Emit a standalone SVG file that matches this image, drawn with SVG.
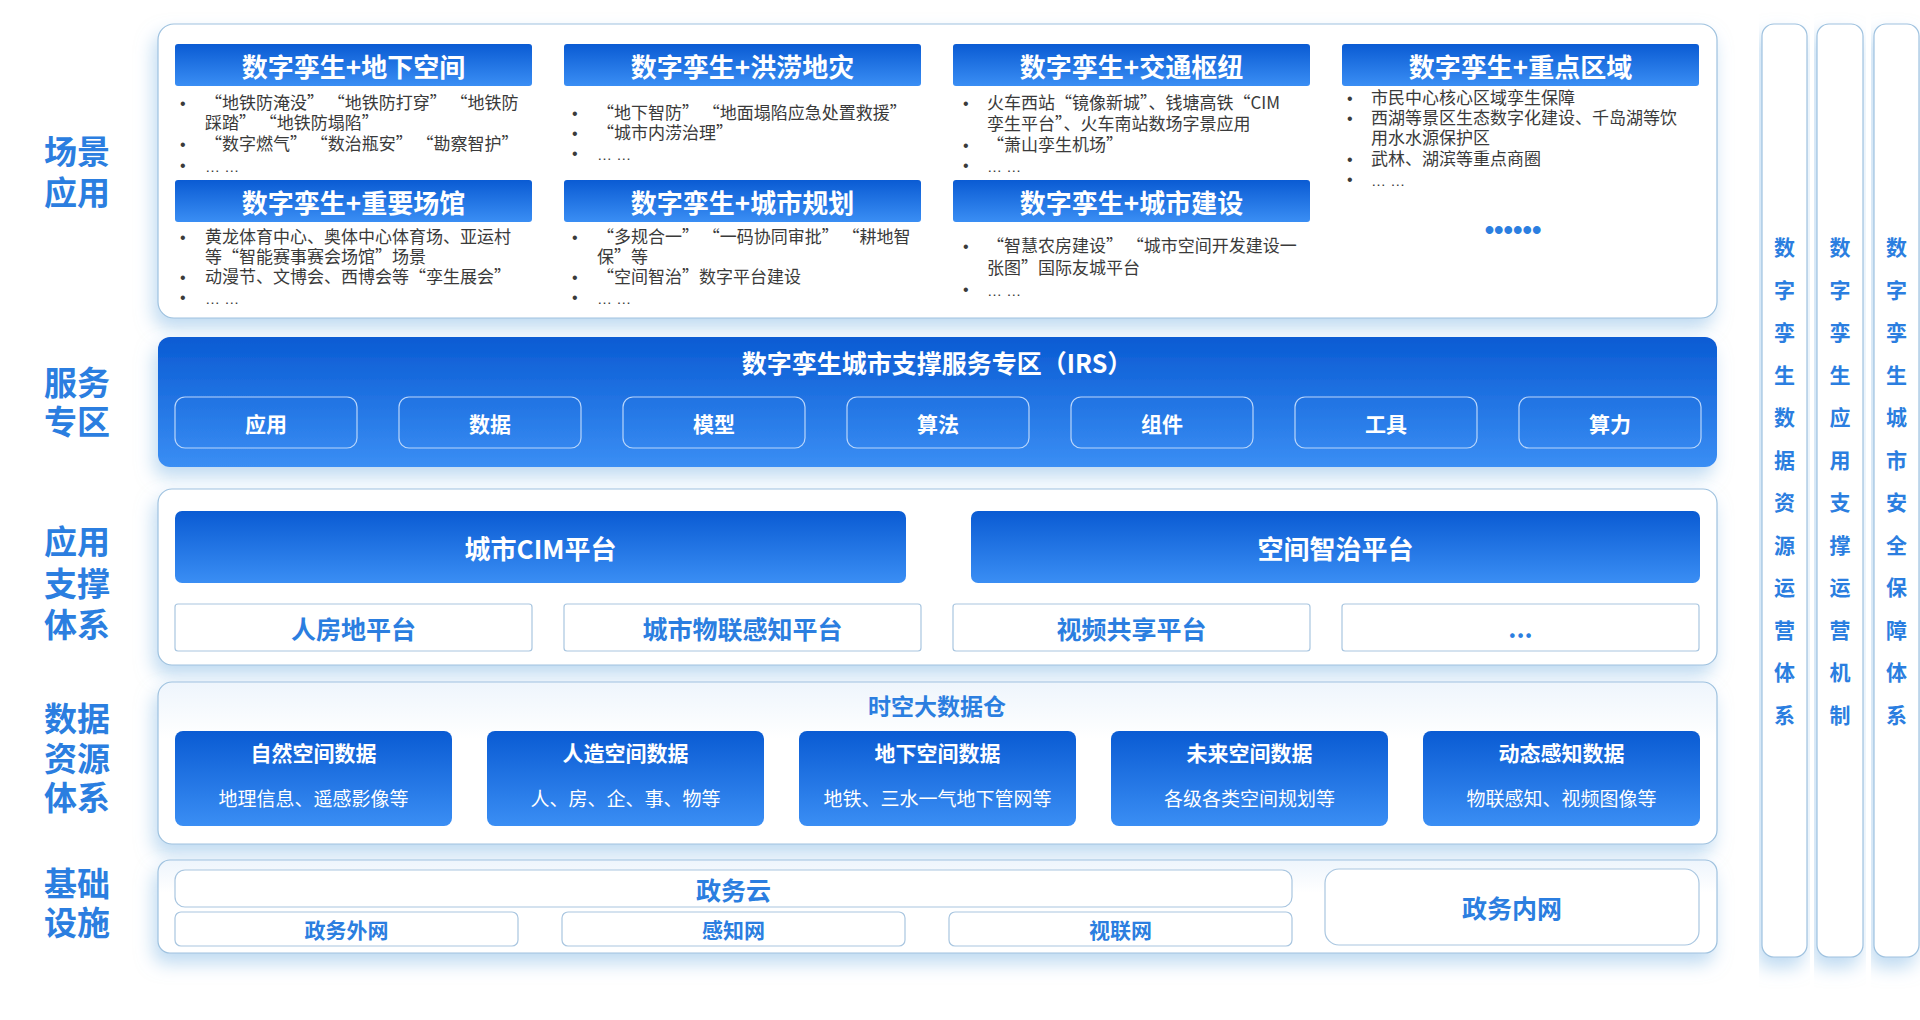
<svg xmlns="http://www.w3.org/2000/svg" width="1920" height="1020" viewBox="0 0 1920 1020">
<defs>
<linearGradient id="blue" x1="0" y1="0" x2="0" y2="1">
<stop offset="0" stop-color="#0a5bd3"/>
<stop offset="1" stop-color="#3a8ef4"/>
</linearGradient>
<linearGradient id="soft" x1="0" y1="0" x2="0" y2="1">
<stop offset="0" stop-color="#eef5fc"/>
<stop offset="0.35" stop-color="#ffffff"/>
<stop offset="1" stop-color="#ffffff"/>
</linearGradient>
<filter id="sh" x="-5%" y="-20%" width="110%" height="160%">
<feDropShadow dx="-4" dy="10" stdDeviation="9" flood-color="#8bbde6" flood-opacity="0.55"/>
</filter>
</defs>
<style>
text{font-family:"Noto Sans CJK SC","Noto Sans",sans-serif}
.panel{fill:#ffffff;stroke:#9fc2df;stroke-width:1.2}
.spanel{fill:url(#soft);stroke:#9fc2df;stroke-width:1.2}
.bluefill{fill:url(#blue)}
.lbl{font-size:33px;font-weight:700;fill:#2b7ee0;text-anchor:middle}
.tbt{font-size:26px;font-weight:700;fill:#ffffff;text-anchor:middle;dominant-baseline:central}
.body{font-size:17px;fill:#3a3a3a}
.bu{font-family:"Liberation Sans",sans-serif;font-size:16px}
.ell{font-family:"Liberation Sans",sans-serif;font-size:15px}
.dots{font-family:"Liberation Sans",sans-serif;font-size:27px;font-weight:700;fill:#2b7ee0;text-anchor:middle}
.svc{fill:none;stroke:#b9d6fb;stroke-width:1.2}
.svct{font-size:21px;font-weight:700;fill:#ffffff;text-anchor:middle;dominant-baseline:central}
.wbox{fill:#ffffff;stroke:#a9c6e0;stroke-width:1.2}
.bt{font-size:25px;font-weight:700;fill:#2b7ee0;text-anchor:middle;dominant-baseline:central}
.dt{font-size:21px;font-weight:700;fill:#ffffff;text-anchor:middle;dominant-baseline:central}
.ds{font-size:19px;fill:#ffffff;text-anchor:middle;dominant-baseline:central}
.nt{font-size:21px;font-weight:700;fill:#2b7ee0;text-anchor:middle;dominant-baseline:central}
.vt{font-size:21px;font-weight:700;fill:#2b7ee0;text-anchor:middle;dominant-baseline:central}
.col{fill:#ffffff;stroke:#9fc2df;stroke-width:1.2}
</style>
<rect width="1920" height="1020" fill="#ffffff"/>

<g id="labels">
<text class="lbl" x="77" y="164">场景</text>
<text class="lbl" x="77" y="205">应用</text>
<text class="lbl" x="77" y="395">服务</text>
<text class="lbl" x="77" y="434">专区</text>
<text class="lbl" x="77" y="554">应用</text>
<text class="lbl" x="77" y="596">支撑</text>
<text class="lbl" x="77" y="637">体系</text>
<text class="lbl" x="77" y="731">数据</text>
<text class="lbl" x="77" y="771">资源</text>
<text class="lbl" x="77" y="810">体系</text>
<text class="lbl" x="77" y="896">基础</text>
<text class="lbl" x="77" y="935">设施</text>
</g>

<g id="scene">
<rect class="panel" x="158" y="24" width="1559" height="294" rx="16" filter="url(#sh)"/>
<g id="s-underground">
<rect class="bluefill" x="175" y="44" width="357" height="42" rx="3"/>
<text class="tbt" x="353.5" y="65">数字孪生+地下空间</text>
<text class="body"><tspan class="bu" x="180" y="109">•</tspan><tspan x="205" y="109">“地铁防淹没” “地铁防打穿” “地铁防</tspan><tspan x="205" y="129">踩踏” “地铁防塌陷”</tspan><tspan class="bu" x="180" y="150">•</tspan><tspan x="205" y="150">“数字燃气” “数治瓶安” “勘察智护”</tspan><tspan class="bu" x="180" y="171">•</tspan><tspan class="ell" x="205" y="172">… …</tspan></text>
</g>
<g id="s-venue">
<rect class="bluefill" x="175" y="180" width="357" height="42" rx="3"/>
<text class="tbt" x="353.5" y="201">数字孪生+重要场馆</text>
<text class="body"><tspan class="bu" x="180" y="243">•</tspan><tspan x="205" y="243">黄龙体育中心、奥体中心体育场、亚运村</tspan><tspan x="205" y="263">等“智能赛事赛会场馆”场景</tspan><tspan class="bu" x="180" y="283">•</tspan><tspan x="205" y="283">动漫节、文博会、西博会等“孪生展会”</tspan><tspan class="bu" x="180" y="303">•</tspan><tspan class="ell" x="205" y="304">… …</tspan></text>
</g>
<g id="s-flood">
<rect class="bluefill" x="564" y="44" width="357" height="42" rx="3"/>
<text class="tbt" x="742.5" y="65">数字孪生+洪涝地灾</text>
<text class="body"><tspan class="bu" x="572" y="119">•</tspan><tspan x="597" y="119">“地下智防” “地面塌陷应急处置救援”</tspan><tspan class="bu" x="572" y="139">•</tspan><tspan x="597" y="139">“城市内涝治理”</tspan><tspan class="bu" x="572" y="159">•</tspan><tspan class="ell" x="597" y="160">… …</tspan></text>
</g>
<g id="s-planning">
<rect class="bluefill" x="564" y="180" width="357" height="42" rx="3"/>
<text class="tbt" x="742.5" y="201">数字孪生+城市规划</text>
<text class="body"><tspan class="bu" x="572" y="243">•</tspan><tspan x="597" y="243">“多规合一” “一码协同审批” “耕地智</tspan><tspan x="597" y="263">保”等</tspan><tspan class="bu" x="572" y="283">•</tspan><tspan x="597" y="283">“空间智治”数字平台建设</tspan><tspan class="bu" x="572" y="303">•</tspan><tspan class="ell" x="597" y="304">… …</tspan></text>
</g>
<g id="s-traffic">
<rect class="bluefill" x="953" y="44" width="357" height="42" rx="3"/>
<text class="tbt" x="1131.5" y="65">数字孪生+交通枢纽</text>
<text class="body"><tspan class="bu" x="963" y="109">•</tspan><tspan x="987" y="109">火车西站“镜像新城”、钱塘高铁“CIM</tspan><tspan x="987" y="130">孪生平台”、火车南站数场字景应用</tspan><tspan class="bu" x="963" y="151">•</tspan><tspan x="987" y="151">“萧山孪生机场”</tspan><tspan class="bu" x="963" y="171">•</tspan><tspan class="ell" x="987" y="172">… …</tspan></text>
</g>
<g id="s-construction">
<rect class="bluefill" x="953" y="180" width="357" height="42" rx="3"/>
<text class="tbt" x="1131.5" y="201">数字孪生+城市建设</text>
<text class="body"><tspan class="bu" x="963" y="252">•</tspan><tspan x="987" y="252">“智慧农房建设” “城市空间开发建设一</tspan><tspan x="987" y="274">张图”国际友城平台</tspan><tspan class="bu" x="963" y="295">•</tspan><tspan class="ell" x="987" y="296">… …</tspan></text>
</g>
<g id="s-keyarea">
<rect class="bluefill" x="1342" y="44" width="357" height="42" rx="3"/>
<text class="tbt" x="1520.5" y="65">数字孪生+重点区域</text>
<text class="body"><tspan class="bu" x="1347" y="104">•</tspan><tspan x="1371" y="104">市民中心核心区域孪生保障</tspan><tspan class="bu" x="1347" y="124">•</tspan><tspan x="1371" y="124">西湖等景区生态数字化建设、千岛湖等饮</tspan><tspan x="1371" y="144">用水水源保护区</tspan><tspan class="bu" x="1347" y="165">•</tspan><tspan x="1371" y="165">武林、湖滨等重点商圈</tspan><tspan class="bu" x="1347" y="185">•</tspan><tspan class="ell" x="1371" y="186">… …</tspan></text>
<text class="dots" x="1513" y="239">••••••</text>
</g>
</g>

<g id="irs">
<rect class="bluefill" x="158" y="337" width="1559" height="130" rx="12" filter="url(#sh)"/>
<text x="937" y="362" font-size="25" font-weight="700" fill="#ffffff" text-anchor="middle" dominant-baseline="central">数字孪生城市支撑服务专区（IRS）</text>
<g id="svc-app"><rect class="svc" x="175" y="397" width="182" height="51" rx="10"/><text class="svct" x="266" y="422.5">应用</text></g>
<g id="svc-data"><rect class="svc" x="399" y="397" width="182" height="51" rx="10"/><text class="svct" x="490" y="422.5">数据</text></g>
<g id="svc-model"><rect class="svc" x="623" y="397" width="182" height="51" rx="10"/><text class="svct" x="714" y="422.5">模型</text></g>
<g id="svc-algo"><rect class="svc" x="847" y="397" width="182" height="51" rx="10"/><text class="svct" x="938" y="422.5">算法</text></g>
<g id="svc-comp"><rect class="svc" x="1071" y="397" width="182" height="51" rx="10"/><text class="svct" x="1162" y="422.5">组件</text></g>
<g id="svc-tool"><rect class="svc" x="1295" y="397" width="182" height="51" rx="10"/><text class="svct" x="1386" y="422.5">工具</text></g>
<g id="svc-power"><rect class="svc" x="1519" y="397" width="182" height="51" rx="10"/><text class="svct" x="1610" y="422.5">算力</text></g>
</g>

<g id="support">
<rect class="panel" x="158" y="489" width="1559" height="176" rx="14" filter="url(#sh)"/>
<g id="cim"><rect class="bluefill" x="175" y="511" width="731" height="72" rx="7"/><text class="tbt" x="540.5" y="547">城市CIM平台</text></g>
<g id="spatial"><rect class="bluefill" x="971" y="511" width="729" height="72" rx="7"/><text class="tbt" x="1335.5" y="547">空间智治平台</text></g>
<g id="renfangdi"><rect class="wbox" x="175" y="604" width="357" height="47" rx="3"/><text class="bt" x="353.5" y="627.5">人房地平台</text></g>
<g id="iot"><rect class="wbox" x="564" y="604" width="357" height="47" rx="3"/><text class="bt" x="742.5" y="627.5">城市物联感知平台</text></g>
<g id="video"><rect class="wbox" x="953" y="604" width="357" height="47" rx="3"/><text class="bt" x="1131.5" y="627.5">视频共享平台</text></g>
<g id="more"><rect class="wbox" x="1342" y="604" width="357" height="47" rx="3"/><text x="1520.5" y="638" font-size="25" font-weight="700" fill="#2b7ee0" text-anchor="middle">...</text></g>
</g>

<g id="data">
<rect class="spanel" x="158" y="682" width="1559" height="162" rx="14" filter="url(#sh)"/>
<text x="937" y="705" font-size="23" font-weight="700" fill="#2b7ee0" text-anchor="middle" dominant-baseline="central">时空大数据仓</text>
<g id="d-natural"><rect class="bluefill" x="175" y="731" width="277" height="95" rx="8"/><text class="dt" x="313.5" y="752">自然空间数据</text><text class="ds" x="313.5" y="797">地理信息、遥感影像等</text></g>
<g id="d-artificial"><rect class="bluefill" x="487" y="731" width="277" height="95" rx="8"/><text class="dt" x="625.5" y="752">人造空间数据</text><text class="ds" x="625.5" y="797">人、房、企、事、物等</text></g>
<g id="d-under"><rect class="bluefill" x="799" y="731" width="277" height="95" rx="8"/><text class="dt" x="937.5" y="752">地下空间数据</text><text class="ds" x="937.5" y="797">地铁、三水一气地下管网等</text></g>
<g id="d-future"><rect class="bluefill" x="1111" y="731" width="277" height="95" rx="8"/><text class="dt" x="1249.5" y="752">未来空间数据</text><text class="ds" x="1249.5" y="797">各级各类空间规划等</text></g>
<g id="d-dynamic"><rect class="bluefill" x="1423" y="731" width="277" height="95" rx="8"/><text class="dt" x="1561.5" y="752">动态感知数据</text><text class="ds" x="1561.5" y="797">物联感知、视频图像等</text></g>
</g>

<g id="infra">
<rect class="spanel" x="158" y="860" width="1559" height="93" rx="12" filter="url(#sh)"/>
<g id="govcloud"><rect class="wbox" x="175" y="870" width="1117" height="37" rx="10"/><text class="bt" x="733.5" y="888.5">政务云</text></g>
<g id="extnet"><rect class="wbox" x="175" y="912" width="343" height="34" rx="6"/><text class="nt" x="346.5" y="929">政务外网</text></g>
<g id="sensenet"><rect class="wbox" x="562" y="912" width="343" height="34" rx="6"/><text class="nt" x="733.5" y="929">感知网</text></g>
<g id="videonet"><rect class="wbox" x="949" y="912" width="343" height="34" rx="6"/><text class="nt" x="1120.5" y="929">视联网</text></g>
<g id="intnet"><rect class="wbox" x="1325" y="869" width="374" height="76" rx="14"/><text class="bt" x="1512" y="907">政务内网</text></g>
</g>

<g id="side">
<g id="side-data">
<rect class="col" x="1762" y="24" width="45" height="933" rx="12" filter="url(#sh)"/>
<text class="vt" x="1784.5" y="246">数</text><text class="vt" x="1784.5" y="288.5">字</text><text class="vt" x="1784.5" y="331">孪</text><text class="vt" x="1784.5" y="373.5">生</text><text class="vt" x="1784.5" y="416">数</text><text class="vt" x="1784.5" y="458.5">据</text><text class="vt" x="1784.5" y="501">资</text><text class="vt" x="1784.5" y="543.5">源</text><text class="vt" x="1784.5" y="586">运</text><text class="vt" x="1784.5" y="628.5">营</text><text class="vt" x="1784.5" y="671">体</text><text class="vt" x="1784.5" y="713.5">系</text>
</g>
<g id="side-app">
<rect class="col" x="1817" y="24" width="46" height="933" rx="12" filter="url(#sh)"/>
<text class="vt" x="1840" y="246">数</text><text class="vt" x="1840" y="288.5">字</text><text class="vt" x="1840" y="331">孪</text><text class="vt" x="1840" y="373.5">生</text><text class="vt" x="1840" y="416">应</text><text class="vt" x="1840" y="458.5">用</text><text class="vt" x="1840" y="501">支</text><text class="vt" x="1840" y="543.5">撑</text><text class="vt" x="1840" y="586">运</text><text class="vt" x="1840" y="628.5">营</text><text class="vt" x="1840" y="671">机</text><text class="vt" x="1840" y="713.5">制</text>
</g>
<g id="side-safe">
<rect class="col" x="1874" y="24" width="45" height="933" rx="12" filter="url(#sh)"/>
<text class="vt" x="1896.5" y="246">数</text><text class="vt" x="1896.5" y="288.5">字</text><text class="vt" x="1896.5" y="331">孪</text><text class="vt" x="1896.5" y="373.5">生</text><text class="vt" x="1896.5" y="416">城</text><text class="vt" x="1896.5" y="458.5">市</text><text class="vt" x="1896.5" y="501">安</text><text class="vt" x="1896.5" y="543.5">全</text><text class="vt" x="1896.5" y="586">保</text><text class="vt" x="1896.5" y="628.5">障</text><text class="vt" x="1896.5" y="671">体</text><text class="vt" x="1896.5" y="713.5">系</text>
</g>
</g>

<g id="connectors"></g>
</svg>
